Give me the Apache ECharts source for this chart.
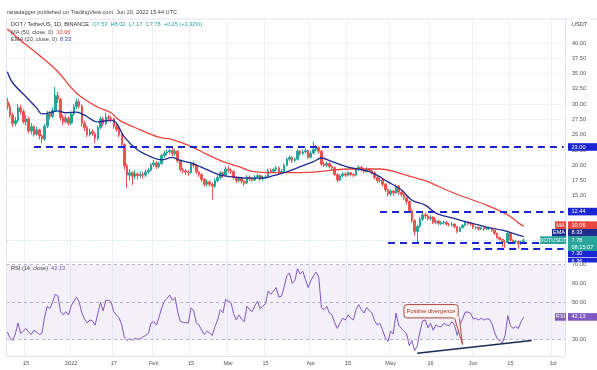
<!DOCTYPE html>
<html><head><meta charset="utf-8">
<script src="https://cdn.jsdelivr.net/npm/echarts@6/dist/echarts.min.js"></script>
<style>html,body{margin:0;padding:0;background:#fff}#c{width:597px;height:370px}</style>
</head><body><div id="c"></div>
<script>
// ---------- DATA ----------
const firstDay = '2021-12-08';
const dayCount = 210; // axis runs to 2022-07-05
// daily candles [open, close, low, high]
const candles = [
[30.4,29.6,29.1,31.0],[29.6,28.2,27.8,30.1],[28.2,26.8,26.3,28.6],[26.8,27.3,26.4,27.9],[27.3,29.4,27.0,30.0],
[29.4,28.8,28.3,29.9],[28.8,27.1,26.8,29.1],[27.1,27.6,26.5,28.2],[27.6,25.6,25.2,27.9],[25.6,26.3,25.1,26.9],
[26.3,25.1,24.7,26.6],[25.1,25.8,24.8,26.3],[25.8,24.8,24.2,26.0],[24.8,24.3,23.6,25.1],[24.3,26.4,24.0,26.8],
[26.4,28.4,26.1,28.9],[28.4,28.0,27.5,28.9],[28.0,29.0,27.7,29.5],[29.0,31.4,28.8,32.8],[31.4,30.8,30.2,32.0],
[30.8,27.8,27.3,31.0],[27.8,27.1,26.6,28.3],[27.1,27.7,26.8,28.2],[27.7,26.9,26.5,28.0],[26.9,28.4,26.6,28.8],
[28.4,29.6,28.1,30.0],[29.6,30.4,29.2,30.9],[30.4,29.7,29.3,30.8],[29.7,26.9,26.3,30.0],[26.9,26.2,25.6,27.3],
[26.2,25.0,24.6,26.5],[25.0,25.5,24.7,26.0],[25.5,25.2,24.8,25.9],[25.2,24.4,23.6,25.5],[24.4,26.2,24.1,26.5],
[26.2,27.6,25.9,28.0],[27.6,26.8,26.4,27.9],[26.8,27.9,26.6,28.6],[27.9,27.7,27.1,28.3],[27.7,27.6,27.0,28.1],
[27.6,26.4,26.0,27.8],[26.4,25.9,25.5,26.8],[25.9,25.0,24.6,26.2],[25.0,23.4,22.9,25.2],[23.4,19.9,19.3,23.6],
[19.9,18.4,16.3,20.3],[18.4,18.8,17.6,19.4],[18.8,18.2,16.8,19.0],[18.2,18.6,17.8,19.2],[18.6,18.3,17.7,18.9],
[18.3,18.5,17.9,19.0],[18.5,18.4,17.8,18.9],[18.4,18.9,18.1,19.3],[18.9,19.2,18.6,19.6],[19.2,20.1,19.0,20.4],
[20.1,20.4,19.7,20.9],[20.4,19.8,19.4,20.7],[19.8,20.3,19.5,20.6],[20.3,21.6,20.1,21.9],[21.6,22.0,21.2,22.4],
[22.0,22.2,21.6,22.6],[22.2,22.4,21.8,22.8],[22.4,21.9,21.5,22.9],[21.9,22.3,21.5,22.7],[22.3,20.7,20.4,22.5],
[20.7,19.3,19.0,21.0],[19.3,19.1,18.7,19.6],[19.1,18.9,18.4,19.4],[18.9,18.8,18.3,19.2],[18.8,20.3,18.6,20.6],
[20.3,20.0,19.6,20.6],[20.0,18.9,18.6,20.2],[18.9,18.5,18.1,19.1],[18.5,17.7,17.3,18.7],[17.7,16.9,16.5,17.9],
[16.9,17.3,16.6,17.7],[17.3,16.9,16.5,17.5],[16.9,16.6,14.4,17.2],[16.6,17.5,16.3,17.9],[17.5,18.0,17.2,18.4],
[18.0,18.8,17.7,19.1],[18.8,18.4,18.0,19.0],[18.4,19.4,18.2,19.8],[19.4,19.2,18.8,19.9],[19.2,19.0,18.6,19.5],
[19.0,18.0,17.7,19.2],[18.0,17.5,17.1,18.2],[17.5,17.9,17.2,18.2],[17.9,17.4,17.0,18.1],[17.4,17.1,16.6,17.6],
[17.1,18.1,16.9,18.4],[18.1,17.8,17.4,18.3],[17.8,17.6,17.3,18.0],[17.6,18.1,17.4,18.4],[18.1,18.3,17.8,18.6],
[18.3,17.8,17.5,18.5],[17.8,18.0,17.5,18.3],[18.0,18.1,17.7,18.4],[18.1,19.2,17.9,19.5],[19.2,19.0,18.7,19.5],
[19.0,19.3,18.8,19.6],[19.3,19.6,19.0,19.9],[19.6,18.9,18.6,19.8],[18.9,19.0,18.7,19.4],[19.0,20.0,18.8,20.3],
[20.0,21.0,19.8,21.3],[21.0,21.3,20.7,21.6],[21.3,20.8,20.4,21.5],[20.8,21.0,20.5,21.3],[21.0,22.3,20.8,22.6],
[22.3,21.9,21.6,22.5],[21.9,22.2,21.7,22.6],[22.2,22.4,21.9,22.8],[22.4,21.3,21.0,22.6],[21.3,22.0,21.1,22.4],
[22.0,22.6,21.8,23.9],[22.6,22.9,22.3,23.3],[22.9,22.3,21.9,23.1],[22.3,20.2,19.9,22.5],[20.2,20.0,19.7,20.6],
[20.0,20.3,19.7,20.6],[20.3,19.8,19.5,20.5],[19.8,19.6,19.2,20.0],[19.6,18.5,18.2,19.8],[18.5,17.6,17.2,18.7],
[17.6,18.3,17.4,18.5],[18.3,18.6,18.0,18.9],[18.6,18.4,18.1,18.8],[18.4,18.8,18.2,19.0],[18.8,18.5,18.2,18.9],
[18.5,18.4,18.1,18.7],[18.4,19.3,18.3,19.6],[19.3,19.7,19.1,20.0],[19.7,19.3,19.0,19.9],[19.3,19.0,18.7,19.5],
[19.0,19.4,18.8,19.7],[19.4,19.1,18.8,19.6],[19.1,18.8,18.5,19.3],[18.8,18.0,17.7,19.0],[18.0,17.5,17.1,18.2],
[17.5,17.6,17.2,17.9],[17.6,16.9,16.5,17.8],[16.9,16.0,15.6,17.1],[16.0,15.3,14.9,16.2],[15.3,15.8,15.0,16.1],
[15.8,15.5,15.0,16.0],[15.5,16.6,15.3,16.9],[16.6,15.6,15.2,16.8],[15.6,15.2,14.8,15.9],[15.2,14.7,14.3,15.4],
[14.7,14.1,13.6,14.9],[14.1,12.6,12.2,14.3],[12.6,11.0,10.6,12.9],[11.0,9.2,8.5,11.2],[9.2,10.0,7.4,10.3],
[10.0,11.2,9.8,11.6],[11.2,11.9,10.9,12.4],[11.9,11.7,11.3,12.3],[11.7,11.3,11.0,12.0],[11.3,11.5,11.0,11.9],
[11.5,10.7,10.4,11.7],[10.7,10.9,10.4,11.2],[10.9,10.5,10.2,11.1],[10.5,10.6,10.2,10.9],[10.6,10.7,10.3,11.0],
[10.7,10.4,10.1,10.9],[10.4,10.3,10.0,10.6],[10.3,10.4,10.0,10.7],[10.4,10.0,9.7,10.5],[10.0,9.2,8.9,10.1],
[9.2,9.8,9.1,10.0],[9.8,10.2,9.7,10.4],[10.2,10.7,10.0,10.9],[10.7,10.5,10.2,10.8],[10.5,10.4,10.1,10.8],
[10.4,9.8,9.6,10.6],[9.8,9.9,9.5,10.1],[9.9,9.6,9.3,10.0],[9.6,9.8,9.4,10.0],[9.8,9.6,9.3,9.9],
[9.6,9.7,9.4,9.9],[9.7,9.7,9.4,10.0],[9.7,9.4,9.1,9.8],[9.4,8.9,8.6,9.5],[8.9,8.2,8.0,9.0],
[8.2,7.9,7.6,8.4],[7.9,7.4,6.6,8.0],[7.4,7.35,6.5,7.8],[7.35,8.9,7.3,9.1],[8.9,7.8,7.5,9.0],
[7.8,7.5,7.2,7.9],[7.5,7.6,7.2,7.8],[7.6,7.2,6.36,7.7],[7.2,7.53,7.0,7.7],[7.53,7.78,7.17,8.02]
];
// MA(50) read at sample dates
const ma50Dates = ['2021-12-08','2021-12-13','2021-12-20','2021-12-27','2022-01-03','2022-01-11','2022-01-16','2022-01-19','2022-01-27','2022-02-03','2022-02-08','2022-02-15','2022-02-21','2022-02-27','2022-03-05','2022-03-10','2022-03-18','2022-03-22','2022-04-02','2022-04-15','2022-04-27','2022-05-03','2022-05-09','2022-05-14','2022-05-24','2022-06-06','2022-06-14','2022-06-18','2022-06-20'];
const ma50Values = [42.3,40.4,38.0,35.3,31.8,29.5,28.6,27.4,25.8,24.6,24.2,23.1,21.8,20.6,19.8,19.0,18.8,18.8,18.9,19.4,19.4,18.9,18.1,17.5,15.6,13.5,11.9,10.6,10.06];
// EMA(20) read at sample dates
const ema20Dates = ['2021-12-08','2021-12-10','2021-12-15','2021-12-19','2021-12-21','2021-12-24','2021-12-27','2021-12-30','2022-01-03','2022-01-06','2022-01-11','2022-01-16','2022-01-18','2022-01-21','2022-01-26','2022-02-01','2022-02-04','2022-02-08','2022-02-11','2022-02-15','2022-02-21','2022-02-26','2022-03-03','2022-03-08','2022-03-13','2022-03-18','2022-03-22','2022-03-27','2022-04-02','2022-04-05','2022-04-09','2022-04-15','2022-04-21','2022-04-24','2022-04-30','2022-05-05','2022-05-09','2022-05-14','2022-05-18','2022-05-24','2022-05-31','2022-06-06','2022-06-12','2022-06-18','2022-06-20'];
const ema20Values = [35.3,33.5,31.2,29.4,28.4,28.6,28.9,28.6,28.7,28.2,27.1,27.4,26.9,24.6,22.5,21.2,20.9,21.3,20.8,20.4,19.3,18.4,18.1,17.9,17.9,18.3,18.8,19.6,20.6,21.2,20.6,19.7,19.2,18.8,17.3,16.0,14.3,13.5,12.2,11.4,10.6,9.9,9.4,8.6,8.33];
// RSI(14) daily
const rsiValues = [
34.1,31,29.6,33,38.9,33.4,34.5,36,34,32.8,
35,34,32.8,33.5,42,47.8,46.5,50,54.2,53.2,
45,43.2,45,43.2,48,50.5,52.7,50,44.2,41,
38.9,40.5,40,37.8,44,49.8,45.4,51,51,50,
44.9,43,41.6,37.8,31,29.6,30.5,29.6,30.8,30.2,
30.5,31.5,32.3,33.4,38.9,39.6,37.8,42,47,50.5,
52,53.8,50.9,52.5,45,39.6,39.3,39,38.9,47,
45.4,38.9,37.8,35,32.8,34.5,33.5,32.3,37,40.5,
46,44.3,51.4,50.5,49.8,44,40.5,43.2,41,39.6,
47.8,46,45,48,50.5,46.5,48,49.1,56,54.2,
56,57.8,52.7,53.2,58,64.2,65.5,60,61.4,67.8,
65,66.5,62,57.8,61.4,64,66,63.3,46.9,46,
47.8,44.2,43.2,39,36,39,41.4,40.5,43.2,41.5,
40.5,46,48.7,46,44.2,47.2,45.5,44.2,40,37.8,
38.7,35,31,29,34.5,33,44.2,37.8,36,34.5,
33.2,26.8,29.6,24.1,26.8,34.1,40,40.5,36.3,38.7,
35,37.8,37,36.9,38.7,37.8,37.5,39.6,37.8,32.3,
38,41,44.7,44.7,44.2,41.1,41.4,40.5,41.4,40.5,
41.1,41,38.7,34.1,30.5,29.5,28.3,32.3,42.8,37.5,
36,36.9,36,39.6,42.13
];
// drawn horizontal levels (start date, price)
const levelStarts = ['2021-12-18','2022-04-27','2022-04-30','2022-06-01'];
const levelValues = [23.00, 12.44, 7.30, 6.36];
// RSI divergence trend line
const divDates = ['2022-05-11','2022-06-23'];
const divValues = [22.8, 29.6];
// axis ticks
const priceTicks = [15,17.5,20,22.5,25,27.5,30,32.5,35,37.5,40];
const rsiTicks = [30,50,60,70];
const xTickDates = ['2021-12-15','2022-01-01','2022-01-17','2022-02-01','2022-02-15','2022-03-01','2022-03-15','2022-04-01','2022-04-15','2022-05-01','2022-05-16','2022-06-01','2022-06-15','2022-07-01'];
const xTickLabels = ['15','2022','17','Feb','15','Mar','15','Apr','15','May','16','Jun','15','Jul'];
const lastMA = 10.06, lastEMA = 8.33, lastClose = 7.78, lastRSI = 42.13;

// ---------- BUILD ----------
const categories = [];
const t0 = Date.UTC(2021, 11, 8);
for (let i = 0; i < dayCount; i++) categories.push(new Date(t0 + i * 86400000).toISOString().slice(0, 10));
const idx = d => categories.indexOf(d);
const xTickMap = {};
xTickDates.forEach((d, i) => xTickMap[d] = xTickLabels[i]);
const tickInterval = (i, v) => xTickMap[categories[i]] !== undefined;

const FONT = 'Liberation Sans, Arial, sans-serif';
const FS = 5.6;
const UP = '#26a69a', DOWN = '#ef5350', MA_C = '#e8453c', EMA_C = '#1d2b8f', LVL = '#1c25d4', RSI_C = '#7e57c2';

const chart = echarts.init(document.getElementById('c'));
const option = {
  animation: false,
  backgroundColor: '#ffffff',
  textStyle: { fontFamily: FONT },
  grid: [
    { left: 6, right: 32, top: 19, height: 243, outerBoundsMode: 'none' },
    { left: 6, right: 32, top: 262, height: 94, outerBoundsMode: 'none' }
  ],
  xAxis: [
    { type: 'category', gridIndex: 0, data: categories, boundaryGap: true,
      axisLine: { show: false }, axisTick: { show: false }, axisLabel: { show: false },
      splitLine: { show: true, interval: tickInterval, lineStyle: { color: '#eef0f5', width: 1 } } },
    { type: 'category', gridIndex: 1, data: categories, boundaryGap: true,
      axisLine: { show: true, lineStyle: { color: '#e0e3eb' } }, axisTick: { show: false },
      axisLabel: { interval: tickInterval, formatter: v => xTickMap[v] || '', fontSize: FS, color: '#555', margin: 4, fontFamily: FONT },
      splitLine: { show: true, interval: tickInterval, lineStyle: { color: '#eef0f5', width: 1 } } }
  ],
  yAxis: [
    { type: 'value', gridIndex: 0, position: 'right', min: 4.2, max: 43.92,
      axisLine: { show: true, lineStyle: { color: '#e0e3eb' } },
      axisTick: { show: false, customValues: priceTicks },
      axisLabel: { customValues: priceTicks, formatter: v => v.toFixed(2), fontSize: FS, color: '#555', margin: 7, fontFamily: FONT },
      splitLine: { show: true, lineStyle: { color: '#f0f2f7', width: 1 } } },
    { type: 'value', gridIndex: 1, position: 'right', min: 21.3, max: 71.4,
      axisLine: { show: true, lineStyle: { color: '#e0e3eb' } },
      axisTick: { show: false, customValues: rsiTicks },
      axisLabel: { customValues: rsiTicks, formatter: v => v.toFixed(2), fontSize: FS, color: '#555', margin: 7, fontFamily: FONT },
      splitLine: { show: false } }
  ],
  series: [
    { type: 'candlestick', name: 'DOTUSDT', xAxisIndex: 0, yAxisIndex: 0, data: candles, barWidth: '78%',
      itemStyle: { color: UP, color0: DOWN, borderColor: UP, borderColor0: DOWN, borderWidth: 1 },
      markLine: { silent: true, symbol: 'none', label: { show: false },
        data: levelValues.map((v, i) => [
          { coord: [idx(levelStarts[i]), v], lineStyle: { color: LVL, width: 1.8, type: [7, 5] } },
          { coord: [dayCount - 1, v] }
        ]).concat([[
          { coord: [0, lastClose], lineStyle: { color: '#9fd6cf', width: 0.8, type: [1, 2] } },
          { coord: [dayCount - 1, lastClose] }
        ]]) } },
    { type: 'line', name: 'MA', xAxisIndex: 0, yAxisIndex: 0, showSymbol: false, smooth: 0.35,
      data: ma50Dates.map((d, i) => [idx(d), ma50Values[i]]),
      lineStyle: { color: MA_C, width: 1.3 }, z: 3 },
    { type: 'line', name: 'EMA', xAxisIndex: 0, yAxisIndex: 0, showSymbol: false, smooth: 0.35,
      data: ema20Dates.map((d, i) => [idx(d), ema20Values[i]]),
      lineStyle: { color: EMA_C, width: 1.3 }, z: 3 },
    { type: 'line', name: 'RSI', xAxisIndex: 1, yAxisIndex: 1, showSymbol: false,
      data: rsiValues, lineStyle: { color: RSI_C, width: 1 },
      markArea: { silent: true, itemStyle: { color: 'rgba(126,87,194,0.09)' }, data: [[{ yAxis: 30 }, { yAxis: 70 }]] },
      markLine: { silent: true, symbol: 'none', label: { show: false },
        lineStyle: { color: '#a8a0c4', width: 0.8, type: [3, 3] },
        data: [{ yAxis: 30 }, { yAxis: 50 }, { yAxis: 70 }] } },
    { type: 'line', name: 'Divergence', xAxisIndex: 1, yAxisIndex: 1, showSymbol: false,
      data: divDates.map((d, i) => [idx(d), divValues[i]]),
      lineStyle: { color: '#1b2a55', width: 1.5 }, z: 4 }
  ]
};
chart.setOption(option);

// ---------- ANNOTATIONS ----------
const py = v => chart.convertToPixel({ yAxisIndex: 0 }, v);
const ry = v => chart.convertToPixel({ yAxisIndex: 1 }, v);
const rx = d => chart.convertToPixel({ xAxisIndex: 1 }, idx(d));
const g = [];
const txt = (x, y, text, rich, extra) => g.push(Object.assign({ type: 'text', x, y, z: 100,
  style: { text, rich, fontFamily: FONT, fontSize: FS, fill: '#444', verticalAlign: 'middle', align: 'left' } }, extra || {}));

txt(7, 12.5, 'ranadagger published on TradingView.com, Jun 20, 2022 15:44 UTC', null);
g.push({ type: 'line', z: 90, shape: { x1: 6.5, y1: 19, x2: 597, y2: 19 }, style: { stroke: '#e0e3eb', lineWidth: 1 } });
g.push({ type: 'line', z: 90, shape: { x1: 6.5, y1: 262, x2: 597, y2: 262 }, style: { stroke: '#e0e3eb', lineWidth: 1 } });
g.push({ type: 'line', z: 90, shape: { x1: 6.5, y1: 19, x2: 6.5, y2: 356 }, style: { stroke: '#e0e3eb', lineWidth: 1 } });
txt(11, 24.5, '{a|DOT / TetherUS, 1D, BINANCE}  {b|O7.53  H8.02  L7.17  C7.78  +0.25 (+3.32%)}',
  { a: { fill: '#333', fontSize: FS, fontFamily: FONT }, b: { fill: UP, fontSize: FS, fontFamily: FONT } });
txt(11, 32, '{a|MA (50, close, 0)}  {b|' + lastMA.toFixed(2) + '}',
  { a: { fill: '#444', fontSize: FS, fontFamily: FONT }, b: { fill: MA_C, fontSize: FS, fontFamily: FONT } });
txt(11, 39.5, '{a|EMA (20, close, 0)}  {b|' + lastEMA.toFixed(2) + '}',
  { a: { fill: '#444', fontSize: FS, fontFamily: FONT }, b: { fill: '#2f45c8', fontSize: FS, fontFamily: FONT } });
txt(11, 268, '{a|RSI (14, close)}  {b|' + lastRSI.toFixed(2) + '}',
  { a: { fill: '#444', fontSize: FS, fontFamily: FONT }, b: { fill: RSI_C, fontSize: FS, fontFamily: FONT } });
txt(572, 24, 'USDT', null, { style: { text: 'USDT', fontFamily: FONT, fontSize: FS, fill: '#444', verticalAlign: 'middle', backgroundColor: '#fff', padding: [2, 4, 2, 0] } });

// right-axis value tags
const tag = (y, h, bg, lines, tagText, tagW) => {
  g.push({ type: 'rect', z: 101, shape: { x: 568, y: y - 3.8, width: 29, height: h }, style: { fill: bg } });
  lines.forEach((t, k) => txt(571.5, y + k * 7, t, null, { z: 102, style: { text: t, fontFamily: FONT, fontSize: FS, fill: '#fff', verticalAlign: 'middle' } }));
  if (tagText) {
    g.push({ type: 'rect', z: 101, shape: { x: 566 - tagW, y: y - 3.8, width: tagW, height: 7.6 }, style: { fill: bg } });
    txt(566 - tagW / 2, y, tagText, null, { z: 102, style: { text: tagText, fontFamily: FONT, fontSize: FS, fill: '#fff', verticalAlign: 'middle', align: 'center' } });
  }
};
tag(py(levelValues[0]), 7.6, LVL, ['23.00']);
tag(py(levelValues[1]), 7.6, LVL, ['12.44']);
tag(py(lastMA) - 1, 7.6, MA_C, [lastMA.toFixed(2)], 'MA', 11);
tag(py(lastEMA) - 4, 7.6, EMA_C, [lastEMA.toFixed(2)], 'EMA', 14);
tag(py(levelValues[3]) + 13, 7.6, LVL, ['6.36']);
// RSI pane covers the lower part of the price-pane tags
g.push({ type: 'rect', z: 101.5, shape: { x: 566, y: 262.5, width: 31, height: 10 }, style: { fill: '#fff' } });
const top70 = rsiTicks[rsiTicks.length - 1];
txt(572, ry(top70), top70.toFixed(2), null, { z: 101.6, style: { text: top70.toFixed(2), fontFamily: FONT, fontSize: FS, fill: '#555', verticalAlign: 'middle' } });
tag(py(levelValues[2]) + 10.5, 7.6, LVL, ['7.30']);
tag(py(lastClose), 14.6, UP, [lastClose.toFixed(2), '08:15:07'], 'DOTUSDT', 26);
tag(ry(lastRSI), 7.6, RSI_C, [lastRSI.toFixed(2)], 'RSI', 11);

// "Positive divergence" callout
const bx1 = rx('2022-05-06'), bx2 = rx('2022-05-26') + 1, by1 = ry(48.7), by2 = ry(41.6);
const tipX = rx('2022-05-28'), tipY = ry(27.4);
g.push({ type: 'polygon', z: 103, shape: { points: [[bx2 - 4, by2 - 1], [tipX, tipY], [bx2 + 1, by2 - 1]] }, style: { fill: '#fdf3f3', stroke: '#a5352d', lineWidth: 0.9 } });
g.push({ type: 'rect', z: 104, shape: { x: bx1, y: by1, width: bx2 - bx1, height: by2 - by1, r: 3 }, style: { fill: '#fdf3f3', stroke: '#a5352d', lineWidth: 0.9 } });
g.push({ type: 'rect', z: 104.5, shape: { x: bx2 - 4.5, y: by2 - 1.5, width: 6, height: 2 }, style: { fill: '#fdf3f3' } });
txt((bx1 + bx2) / 2, (by1 + by2) / 2, 'Positive divergence', null, { z: 105, style: { text: 'Positive divergence', fontFamily: FONT, fontSize: FS, fill: '#a5352d', verticalAlign: 'middle', align: 'center' } });

chart.setOption({ graphic: g });
</script>
</body></html>
